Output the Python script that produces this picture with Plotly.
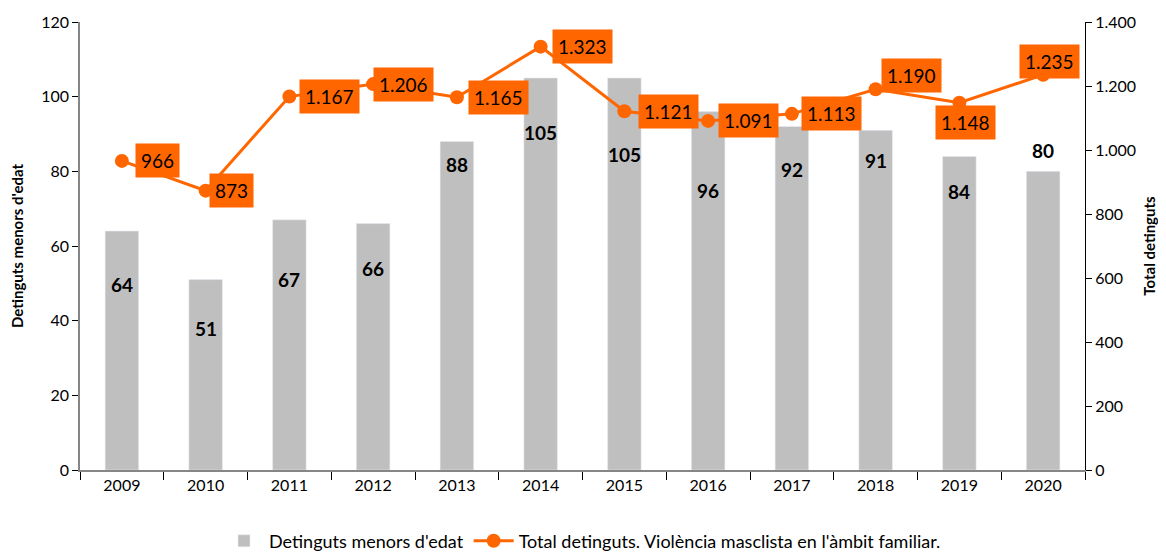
import plotly.graph_objects as go

years = ["2009", "2010", "2011", "2012", "2013", "2014", "2015", "2016", "2017", "2018", "2019", "2020"]
menors = [64, 51, 67, 66, 88, 105, 105, 96, 92, 91, 84, 80]
total = [966, 873, 1167, 1206, 1165, 1323, 1121, 1091, 1113, 1190, 1148, 1235]

# label placement (left-axis units for bar labels; pixel shifts for line labels)
bar_label_y = [49.8, 38, 50.9, 54, 81.7, 90.5, 84.4, 75, 80.4, 83, 74.5, 85.7]
line_dx = [36, 26, 40, 30, 42, 42, 44, 40, 40, 36, 6, 6]
line_dy = [0, 0, 0, 0, 0, 0, 0, 0, 0, 14, -20, 13]

FONT = "Lato"
ORANGE = "#FF6600"

fig = go.Figure()
fig.add_trace(go.Bar(x=years, y=menors, name="Detinguts menors d'edat",
                     marker_color="#BFBFBF", yaxis="y"))
fig.add_trace(go.Scatter(x=years, y=total, name="Total detinguts. Violència masclista en l'àmbit familiar.",
                         mode="lines+markers", line=dict(color=ORANGE, width=3),
                         marker=dict(color=ORANGE, size=14), yaxis="y2"))

for i, (v, ly) in enumerate(zip(menors, bar_label_y)):
    fig.add_annotation(x=i, y=ly, xref="x", yref="y", text=f"<b>{v}</b>", showarrow=False,
                       font=dict(family=FONT, size=19, color="#000000"))

def fmt(v):
    return f"{v:,}".replace(",", ".")

for i, (v, dx, dy) in enumerate(zip(total, line_dx, line_dy)):
    fig.add_annotation(x=i, y=v, xref="x", yref="y2", text=fmt(v), showarrow=False,
                       xshift=dx, yshift=dy, bgcolor=ORANGE, borderpad=5,
                       font=dict(family=FONT, size=19, color="#000000"))

fig.update_layout(
    width=1158, height=544,
    margin=dict(l=72, r=81, t=14, b=82, autoexpand=False),
    plot_bgcolor="white", paper_bgcolor="white",
    separators=",.",
    bargap=0.6,
    font=dict(family=FONT, size=15, color="#000000"),
    xaxis=dict(type="category", range=[-0.5, len(years) - 0.5], showline=True, linecolor="#868686",
               linewidth=1.5, ticks="outside", tickson="boundaries", ticklen=8, tickcolor="#000000",
               tickangle=0, tickfont=dict(size=16), showgrid=False, automargin=False),
    yaxis=dict(range=[0, 120], dtick=20, showline=True, linecolor="#868686", linewidth=1.5,
               ticks="outside", ticklen=6, tickcolor="#000000", showgrid=False,
               tickfont=dict(size=16), zeroline=False, automargin=False,
               title=dict(text="<b>Detinguts menors d'edat</b>", font=dict(size=15), standoff=14)),
    yaxis2=dict(range=[0, 1400], dtick=200, overlaying="y", side="right", showline=True,
                linecolor="#000000", linewidth=1, ticks="outside", ticklen=6, tickcolor="#000000",
                showgrid=False, tickformat=",d", tickfont=dict(size=16), zeroline=False,
                automargin=False,
                title=dict(text="<b>Total detinguts</b>", font=dict(size=15), standoff=9)),
    legend=dict(orientation="h", x=0.5, xanchor="center", y=-0.2, yanchor="bottom",
                font=dict(size=18), itemwidth=40),
    showlegend=True,
)

fig.write_html("out.html")
